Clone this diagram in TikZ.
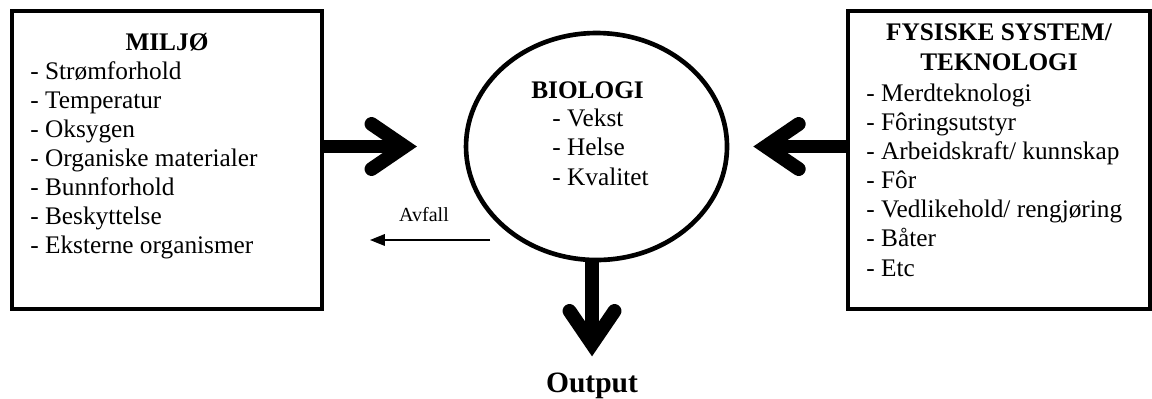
\documentclass[tikz,border=0pt]{standalone}
\usepackage{fontspec}
\setmainfont{Liberation Serif}
\usetikzlibrary{shapes.geometric, arrows.meta, positioning}

\begin{document}
\begin{tikzpicture}[
  panel/.style={draw, line width=1.9pt, minimum width=#1, minimum height=4.967cm, inner sep=0pt},
  hub/.style={draw, ellipse, line width=2.2pt, minimum width=4.35cm, minimum height=3.783cm, inner sep=0pt},
  heading/.style={font=\fontsize{12}{13.8}\selectfont\bfseries, align=center, inner sep=0pt, anchor=base},
  items/.style={font=\fontsize{12}{13.8}\selectfont, align=left, inner sep=0pt, anchor=base west},
  bigarrow/.style={line width=6.6pt, -{Straight Barb[length=0.55cm, width=0.75cm, line cap=round, line join=miter]}},
  smallarrow/.style={line width=0.6pt, -{Triangle[length=7pt, width=5.5pt]}}]
  \useasboundingbox (0,0) rectangle (19.2,-6.65);
  % the three blocks
  \node[panel=5.167cm] (miljo) at (2.783,-2.667) {};
  \node[hub] (bio) at (9.942,-2.442) {};
  \node[panel=5.033cm] (fysisk) at (16.65,-2.667) {};
  % texts in the blocks (base = last line)
  \node[heading] (miljotitle) at ([yshift=-0.7cm]miljo.north) {MILJØ};
  \node[items] (miljolist) at ([xshift=0.333cm, yshift=-4.083cm]miljo.north west)
    {- Strømforhold\\- Temperatur\\- Oksygen\\- Organiske materialer\\- Bunnforhold\\- Beskyttelse\\- Eksterne organismer};
  \node[heading] (biotitle) at ([xshift=-0.15cm, yshift=0.808cm]bio.center) {BIOLOGI};
  \node[items] (biolist) at ([xshift=-0.742cm, yshift=-0.642cm]bio.center)
    {- Vekst\\- Helse\\- Kvalitet};
  \node[heading] (fysisktitle) at ([yshift=-1.017cm]fysisk.north) {FYSISKE SYSTEM/\\TEKNOLOGI};
  \node[items] (fysisklist) at ([xshift=0.333cm, yshift=-4.45cm]fysisk.north west)
    {- Merdteknologi\\- Fôringsutstyr\\- Arbeidskraft/ kunnskap\\- Fôr\\- Vedlikehold/ rengjøring\\- Båter\\- Etc};
  \node[font=\fontsize{14}{16}\selectfont\bfseries, anchor=base] (output) at ([xshift=-0.075cm, yshift=-2.162cm]bio.south) {Output};
  % arrows
  \draw[bigarrow, shorten >=0.78cm] (miljo.east |- bio.center) -- (bio.west);
  \draw[bigarrow, shorten >=0.4cm] (fysisk.west |- bio.center) -- (bio.east);
  \draw[bigarrow, shorten >=0.145cm] (bio.south -| output.base) -- (output.north);
  \coordinate (wastefrom) at (8.167,-4.0);
  \coordinate (wasteto) at (6.167,-4.0);
  \draw[smallarrow] (wastefrom) -- node[above=0.18cm, pos=0.55, font=\fontsize{9.5}{11}\selectfont] (avfall) {Avfall} (wasteto);
\end{tikzpicture}
\end{document}
